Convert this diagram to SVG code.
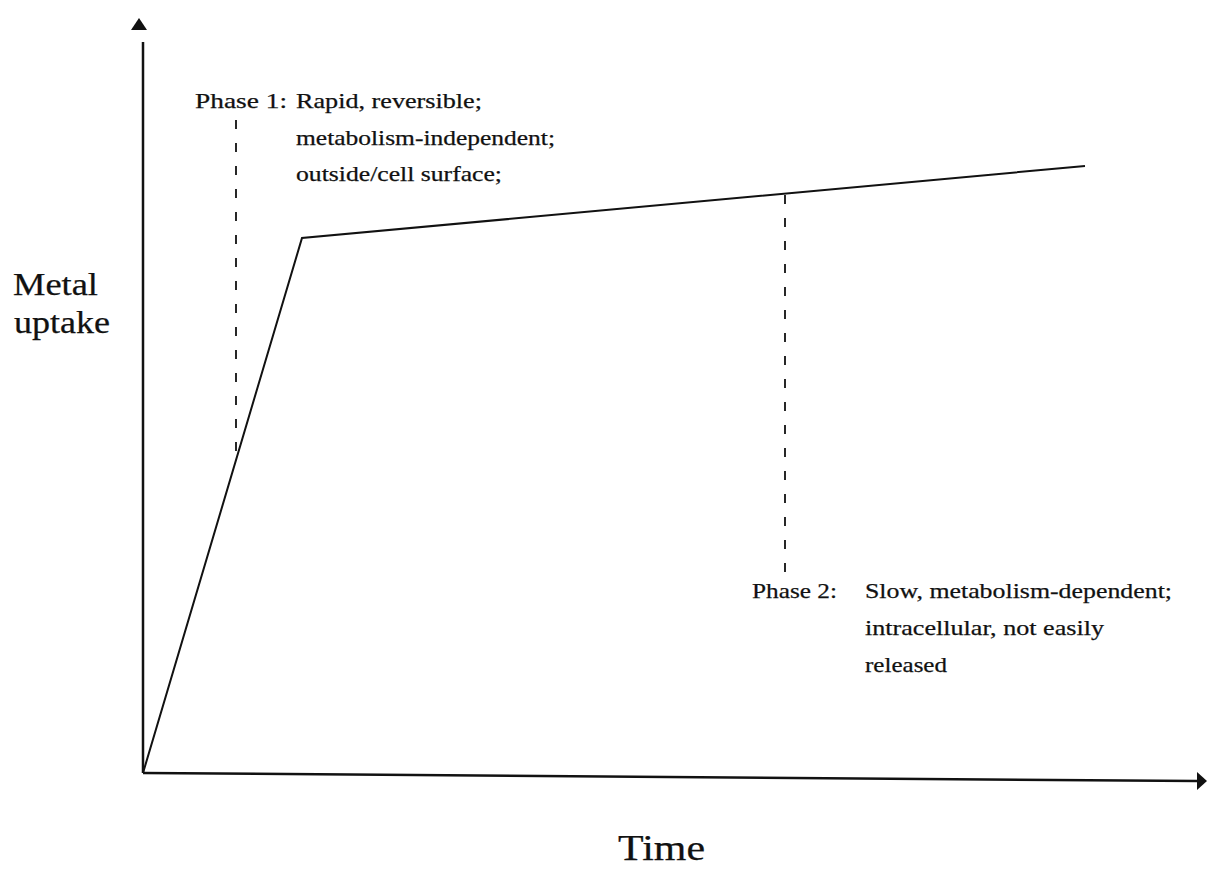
<svg xmlns="http://www.w3.org/2000/svg" width="1207" height="873" viewBox="0 0 1207 873">
<style>
.t{font-family:"Liberation Serif","Times New Roman",serif;fill:#111;stroke:#111;stroke-width:0.25}
.s{font-size:21px}
.m{font-size:22px}
.b{font-size:31px}
.ax{stroke:#111;stroke-width:2.5;fill:none}
.cv{stroke:#111;stroke-width:2;fill:none}
.da{stroke:#111;stroke-width:1.8;fill:none;stroke-dasharray:9 14}
</style>
<rect width="1207" height="873" fill="#fff"/>
<g id="connectors">
<line class="ax" x1="143" y1="42" x2="143" y2="773"/>
<polygon points="139,18 131,30 147,30" fill="#111"/>
<line class="ax" x1="143" y1="773" x2="1197" y2="781"/>
<polygon points="1207,781 1197,772 1197,790" fill="#111"/>
<polyline class="cv" points="143,773 302,238 1085,166"/>
<line class="da" x1="236" y1="120" x2="236" y2="460"/>
<line class="da" x1="785" y1="195" x2="785" y2="582"/>
</g>
<g id="ylabel">
<text class="t b" x="13" y="295" textLength="85" lengthAdjust="spacingAndGlyphs">Metal</text>
<text class="t b" x="14" y="333" textLength="96" lengthAdjust="spacingAndGlyphs">uptake</text>
</g>
<g id="xlabel">
<text class="t" x="618" y="860" textLength="87" lengthAdjust="spacingAndGlyphs" style="font-size:35px">Time</text>
</g>
<g id="phase1">
<text class="t s" x="195" y="108" textLength="92" lengthAdjust="spacingAndGlyphs">Phase 1:</text>
<text class="t s" x="296" y="108" textLength="186" lengthAdjust="spacingAndGlyphs">Rapid, reversible;</text>
<text class="t s" x="296" y="145" textLength="259" lengthAdjust="spacingAndGlyphs">metabolism-independent;</text>
<text class="t s" x="296" y="181" textLength="206" lengthAdjust="spacingAndGlyphs">outside/cell surface;</text>
</g>
<g id="phase2">
<text class="t m" x="752" y="598" textLength="85" lengthAdjust="spacingAndGlyphs">Phase 2:</text>
<text class="t m" x="865" y="598" textLength="307" lengthAdjust="spacingAndGlyphs">Slow, metabolism-dependent;</text>
<text class="t m" x="865" y="635" textLength="239" lengthAdjust="spacingAndGlyphs">intracellular, not easily</text>
<text class="t m" x="865" y="672" textLength="82" lengthAdjust="spacingAndGlyphs">released</text>
</g>
</svg>
